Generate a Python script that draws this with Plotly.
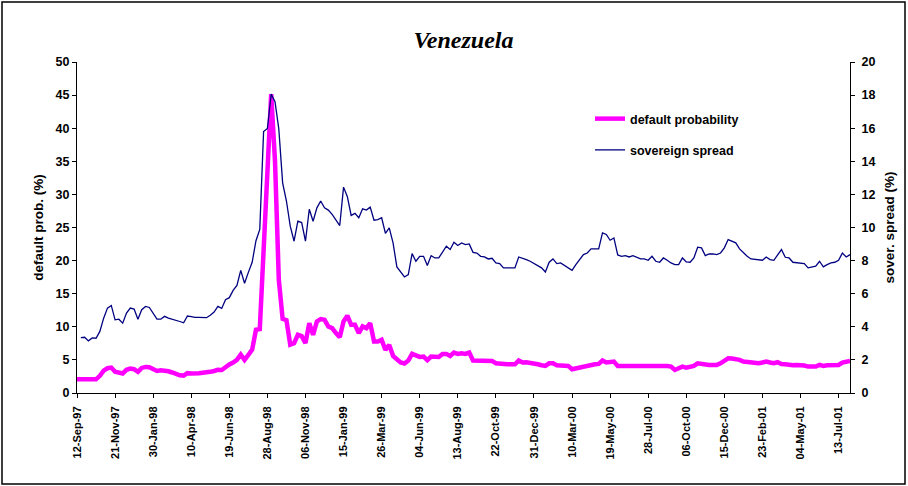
import datetime as dt
import plotly.graph_objects as go

# ---------------- data ----------------
start_date = dt.date(1997, 9, 12)

# weekly default probability (%), left axis
default_prob = [
    2.07, 2.07, 2.07, 2.07, 2.07, 2.07, 2.6, 3.38, 3.74, 3.84,
    3.2, 3.13, 2.95, 3.5, 3.69, 3.59, 3.2, 3.79, 3.94, 3.89,
    3.62, 3.33, 3.43, 3.38, 3.28, 3.1, 2.8, 2.68, 2.63, 3.0,
    2.95, 3.05, 2.98, 3.05, 3.08, 3.2, 3.33, 3.5, 3.48, 3.99,
    4.3, 4.6, 5.0, 5.8, 5.0, 5.75, 6.55, 9.55, 9.65, 21.5,
    33.3, 45.15, 35.0, 17.1, 11.2, 11.0, 7.3, 7.53, 8.79, 8.6,
    7.53, 10.56, 8.79, 10.81, 11.16, 11.06, 10.05, 9.8, 9.04, 8.43,
    10.81, 11.67, 10.3, 10.3, 9.04, 10.05, 9.8, 10.56, 7.78, 7.78,
    8.03, 6.52, 7.27, 5.61, 5.1, 4.6, 4.45, 4.9, 5.91, 5.6,
    5.45, 5.5, 4.95, 5.5, 5.45, 5.45, 5.91, 5.91, 5.6, 6.11,
    5.91, 6.01, 5.91, 6.11, 4.9, 4.9, 4.75, 4.75, 4.85, 4.85,
    4.49, 4.39, 4.39, 4.34, 4.34, 4.34, 4.9, 4.6, 4.65, 4.6,
    4.49, 4.34, 4.19, 4.09, 4.49, 4.49, 4.19, 4.19, 4.09, 4.09,
    3.59, 3.73, 3.89, 4.09, 4.19, 4.34, 4.34, 4.39, 4.9, 4.6,
    4.75, 4.75, 4.09, 4.09,
    4.09, 4.09, 4.24, 4.09, 4.09, 4.14, 4.09, 4.24, 4.09, 4.19,
    4.24, 4.09, 3.99, 3.48, 3.74, 3.99, 3.84, 3.89, 4.09, 4.49,
    4.39, 4.24, 4.24, 4.24, 4.24, 4.49, 4.9, 5.25, 5.2, 5.15,
    5.0, 4.75, 4.65, 4.6, 4.49, 4.49, 4.6, 4.75, 4.6, 4.49,
    4.65, 4.39, 4.34, 4.24, 4.19, 4.24, 4.24, 4.14, 3.99, 3.99,
    3.99, 4.24, 4.09, 4.19, 4.24, 4.24, 4.24, 4.6, 4.65, 4.85,
]

# weekly sovereign spread (%), right axis
sovereign_spread = [
    None, 3.35, 3.37, 3.15, 3.33, 3.31, 3.72, 4.52, 5.13, 5.29,
    4.42, 4.46, 4.22, 4.83, 5.13, 5.07, 4.46, 5.03, 5.23, 5.17,
    4.83, 4.46, 4.46, 4.63, 4.52, 4.46, 4.42, 4.32, 4.24, 4.65,
    4.62, 4.57, 4.57, 4.56, 4.55, 4.7, 4.89, 5.23, 5.11, 5.64,
    5.76, 6.2, 6.5, 7.41, 6.63, 7.29, 7.9, 9.2, 9.88, 15.8,
    15.98, 18.06, 17.6, 15.94, 12.7, 11.6, 10.08, 9.17, 10.38, 10.3,
    9.17, 11.1, 10.38, 11.19, 11.6, 11.19, 11.05, 10.79, 10.44, 10.12,
    12.44, 11.86, 10.73, 10.85, 10.59, 11.13, 11.05, 11.23, 10.44, 10.48,
    10.59, 9.64, 9.98, 9.07, 7.62, 7.35, 7.01, 7.15, 8.42, 7.96,
    8.26, 8.26, 7.7, 8.3, 8.16, 8.16, 8.5, 8.87, 8.67, 9.11,
    8.91, 9.07, 8.97, 9.01, 8.5, 8.46, 8.26, 8.22, 8.1, 8.14,
    7.86, 7.82, 7.56, 7.56, 7.56, 7.56, 8.22, 8.16, 8.06, 7.96,
    7.82, 7.7, 7.56, 7.31, 7.9, 8.1, 7.82, 7.86, 7.7, 7.56,
    7.41, 7.76, 8.06, 8.36, 8.46, 8.71, 8.71, 8.71, 9.68, 9.58,
    9.23, 9.37, 8.34, 8.26,
    8.3, 8.22, 8.3, 8.22, 8.1, 8.1, 8.02, 8.26, 7.96, 7.9,
    8.16, 8.02, 7.86, 7.76, 7.76, 8.16, 7.92, 7.9, 8.16, 8.81,
    8.77, 8.3, 8.4, 8.4, 8.36, 8.46, 8.77, 9.27, 9.15, 9.07,
    8.71, 8.46, 8.26, 8.1, 8.06, 8.06, 8.02, 8.22, 8.06, 8.02,
    8.36, 8.67, 8.2, 8.16, 7.9, 7.86, 7.86, 7.82, 7.56, 7.62,
    7.66, 7.96, 7.62, 7.76, 7.86, 7.9, 8.02, 8.46, 8.22, 8.36,
]

dates = [start_date + dt.timedelta(weeks=i) for i in range(len(default_prob))]

tick_labels = [
    "12-Sep-97", "21-Nov-97", "30-Jan-98", "10-Apr-98", "19-Jun-98",
    "28-Aug-98", "06-Nov-98", "15-Jan-99", "26-Mar-99", "04-Jun-99",
    "13-Aug-99", "22-Oct-99", "31-Dec-99", "10-Mar-00", "19-May-00",
    "28-Jul-00", "06-Oct-00", "15-Dec-00", "23-Feb-01", "04-May-01",
    "13-Jul-01",
]
tick_dates = [dt.datetime.strptime(t, "%d-%b-%y").date() for t in tick_labels]

# ---------------- figure ----------------
FONT = "Liberation Sans"
tickfont = dict(family=FONT, size=12.5, color="black", weight="bold")
titlefont = dict(family=FONT, size=13.5, color="black", weight="bold")

fig = go.Figure()
fig.add_trace(go.Scatter(
    x=dates, y=default_prob, name="default probability", mode="lines",
    line=dict(color="#FF00FF", width=4.5), yaxis="y", legendgroup="a",
))
fig.add_trace(go.Scatter(
    x=dates, y=sovereign_spread, name="sovereign spread", mode="lines",
    line=dict(color="#000080", width=1.3), yaxis="y2", legendgroup="b",
))

x_range = [str(dates[0]), str(dates[-1])]

fig.update_layout(
    width=908, height=486,
    margin=dict(l=77, r=58, t=62, b=93),
    paper_bgcolor="white", plot_bgcolor="white",
    title=dict(
        text="Venezuela", x=0.5, xref="paper", xanchor="center",
        y=1 - 40 / 486, yref="container", yanchor="middle",
        font=dict(family="Liberation Serif", size=24, color="black",
                  weight="bold", style="italic"),
    ),
    xaxis=dict(
        type="date", range=x_range, tickmode="array",
        tickvals=[str(d) for d in tick_dates], ticktext=tick_labels,
        tickangle=-90, tickfont=dict(family=FONT, size=11, color="black", weight="bold"),
        ticks="outside", ticklen=4, tickcolor="black", showline=True,
        linecolor="black", linewidth=1, showgrid=False, zeroline=False,
        ticklabelstandoff=4,
    ),
    xaxis2=dict(
        type="date", range=x_range, overlaying="x", anchor="y", side="bottom",
        tickmode="array", tickvals=[str(d) for d in tick_dates],
        ticks="inside", ticklen=3, tickcolor="black", showticklabels=False,
        showline=False, showgrid=False, zeroline=False,
    ),
    yaxis=dict(
        range=[0, 50], dtick=5, tick0=0, ticks="outside", ticklen=4,
        tickcolor="black", tickfont=tickfont, showline=True, linecolor="black",
        linewidth=1, showgrid=False, zeroline=False,
        title=dict(text="default prob. (%)", font=titlefont, standoff=8),
    ),
    yaxis2=dict(
        range=[0, 20], dtick=2, tick0=0, overlaying="y", side="right",
        anchor="x", ticks="outside", ticklen=4, tickcolor="black",
        tickfont=tickfont, showline=True, linecolor="black", linewidth=1,
        showgrid=False, zeroline=False, ticklabelstandoff=4,
        title=dict(text="sover. spread (%)", font=titlefont, standoff=10),
    ),
    yaxis3=dict(
        range=[0, 50], dtick=5, tick0=0, overlaying="y", side="left",
        anchor="x", ticks="inside", ticklen=3, tickcolor="black",
        showticklabels=False, showline=False, showgrid=False, zeroline=False,
    ),
    yaxis4=dict(
        range=[0, 20], dtick=2, tick0=0, overlaying="y", side="right",
        anchor="x", ticks="inside", ticklen=3, tickcolor="black",
        showticklabels=False, showline=False, showgrid=False, zeroline=False,
    ),
    showlegend=True,
    legend=dict(
        x=(590 - 77) / 773, y=(393 - 104) / 331, xanchor="left", yanchor="top",
        font=dict(family=FONT, size=12.5, color="black", weight="bold"),
        bgcolor="rgba(0,0,0,0)", traceorder="grouped", tracegroupgap=12,
        itemwidth=30,
    ),
    shapes=[dict(
        type="rect", xref="paper", yref="paper",
        x0=(2 - 77) / 773, x1=(905 - 77) / 773,
        y0=(393 - 484) / 331, y1=(393 - 2) / 331,
        line=dict(color="black", width=1.5), fillcolor="rgba(0,0,0,0)",
    )],
)

fig.write_html(
    "out.html",
    config={"displayModeBar": False},
    post_script="document.body.style.margin='0';document.body.style.overflow='hidden';",
)
